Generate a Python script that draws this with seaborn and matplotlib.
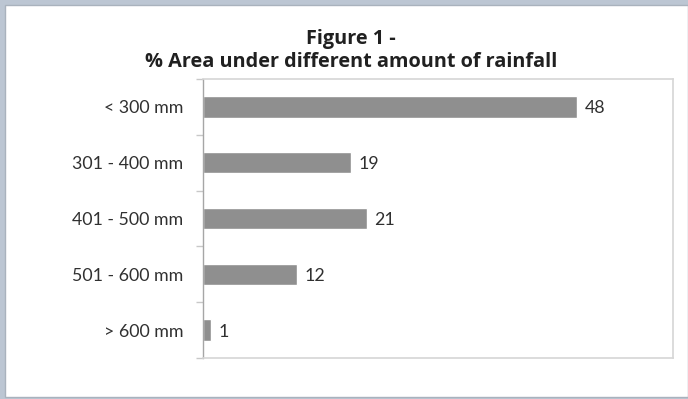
import matplotlib
matplotlib.use("Agg")
import matplotlib.pyplot as plt
import seaborn as sns
import pandas as pd
from matplotlib.patches import Rectangle

categories = ["< 300 mm", "301 - 400 mm", "401 - 500 mm", "501 - 600 mm", "> 600 mm"]
values = [48, 19, 21, 12, 1]
title_lines = ["Figure 1 -", "% Area under different amount of rainfall"]

df = pd.DataFrame({"range": categories, "pct": values})

sns.set_theme(style="white")
plt.rcParams["font.family"] = ["Lato", "DejaVu Sans"]

W, H = 688, 399
fig = plt.figure(figsize=(W / 100, H / 100), dpi=100)
fig.patch.set_facecolor("white")

# window-style frame around the chart
frame_col = "#bcc6d3"
fig.patches.append(Rectangle((0, 0), 1, 1, transform=fig.transFigure,
                             facecolor=frame_col, edgecolor="none", zorder=-3))
fig.patches.append(Rectangle((5 / W, 2 / H), (W - 5) / W, (H - 7) / H,
                             transform=fig.transFigure, facecolor="white",
                             edgecolor="#a9b2bd", linewidth=1.0, zorder=-2))

left, right, top, bottom = 203, 673, 79, 358
ax = fig.add_axes([left / W, 1 - bottom / H, (right - left) / W, (bottom - top) / H])

sns.barplot(data=df, x="pct", y="range", orient="h", color="#8f8f8f",
            saturation=1, width=0.38, ax=ax)

ax.set_xlim(0, 60.3)
ax.set_ylim(4.5, -0.5)
ax.set_xlabel("")
ax.set_ylabel("")
ax.set_xticks([])

for s in ["top", "right", "bottom"]:
    ax.spines[s].set_visible(True)
    ax.spines[s].set_color("#d6d6d6")
    ax.spines[s].set_linewidth(1.2)
ax.spines["left"].set_color("#a6a6a6")
ax.spines["left"].set_linewidth(1.0)

# category labels, with tick marks at the category boundaries
ax.set_yticks(range(len(categories)))
ax.set_yticklabels(categories, fontsize=12.8, color="#303030")
ax.tick_params(axis="y", which="major", length=0, pad=14)
ax.set_yticks([i + 0.5 for i in range(-1, len(categories))], minor=True)
ax.tick_params(axis="y", which="minor", length=5, width=1.0, color="#c8c8c8",
               direction="out", left=True)

for i, v in enumerate(values):
    ax.text(v + 1.0, i, str(v), va="center_baseline", ha="left", fontsize=12.8,
            color="#303030")

fig.text(351 / W, 1 - 44 / H, title_lines[0], ha="center", va="baseline",
         fontsize=14.3, fontweight="bold", color="#202020",
         family=["Open Sans", "DejaVu Sans"])
fig.text(351 / W, 1 - 67 / H, title_lines[1], ha="center", va="baseline",
         fontsize=14.3, fontweight="bold", color="#202020",
         family=["Open Sans", "DejaVu Sans"])

fig.savefig("out.png", dpi=100)
